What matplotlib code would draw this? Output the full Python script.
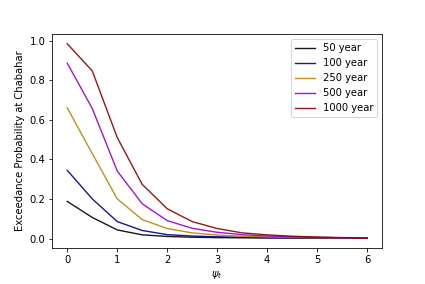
import matplotlib
matplotlib.use("Agg")
import matplotlib.pyplot as plt

psi = [0, 0.5, 1, 1.5, 2, 2.5, 3, 3.5, 4, 4.5, 5, 5.5, 6]
p50 = [0.188, 0.107, 0.044, 0.019, 0.011, 0.007, 0.005, 0.004, 0.003, 0.003, 0.002, 0.002, 0.002]
p100 = [0.345, 0.201, 0.086, 0.041, 0.020, 0.013, 0.009, 0.007, 0.005, 0.004, 0.003, 0.003, 0.002]
p250 = [0.661, 0.430, 0.201, 0.096, 0.051, 0.029, 0.018, 0.012, 0.008, 0.006, 0.004, 0.003, 0.003]
p500 = [0.887, 0.658, 0.342, 0.176, 0.091, 0.052, 0.032, 0.020, 0.013, 0.009, 0.006, 0.004, 0.003]
p1000 = [0.985, 0.848, 0.511, 0.274, 0.151, 0.086, 0.051, 0.029, 0.019, 0.012, 0.008, 0.005, 0.003]
labels = ["50 year", "100 year", "250 year", "500 year", "1000 year"]
colors = ["black", "darkblue", "darkgoldenrod", "darkviolet", "darkred"]

dpi = 72
fig = plt.figure(figsize=(425 / dpi, 284 / dpi), dpi=dpi)
ax = fig.add_axes([0.123, 0.127, 0.776, 0.753])
for s, lab, c in zip([p50, p100, p250, p500, p1000], labels, colors):
    ax.plot(psi, s, color=c, label=lab, lw=1.4, alpha=0.9)
ax.set_xlabel(r"$\psi_t$")
ax.set_ylabel("Exceedance Probability at Chabahar")
ax.legend(loc="upper right")
fig.savefig("out.png", dpi=dpi)
